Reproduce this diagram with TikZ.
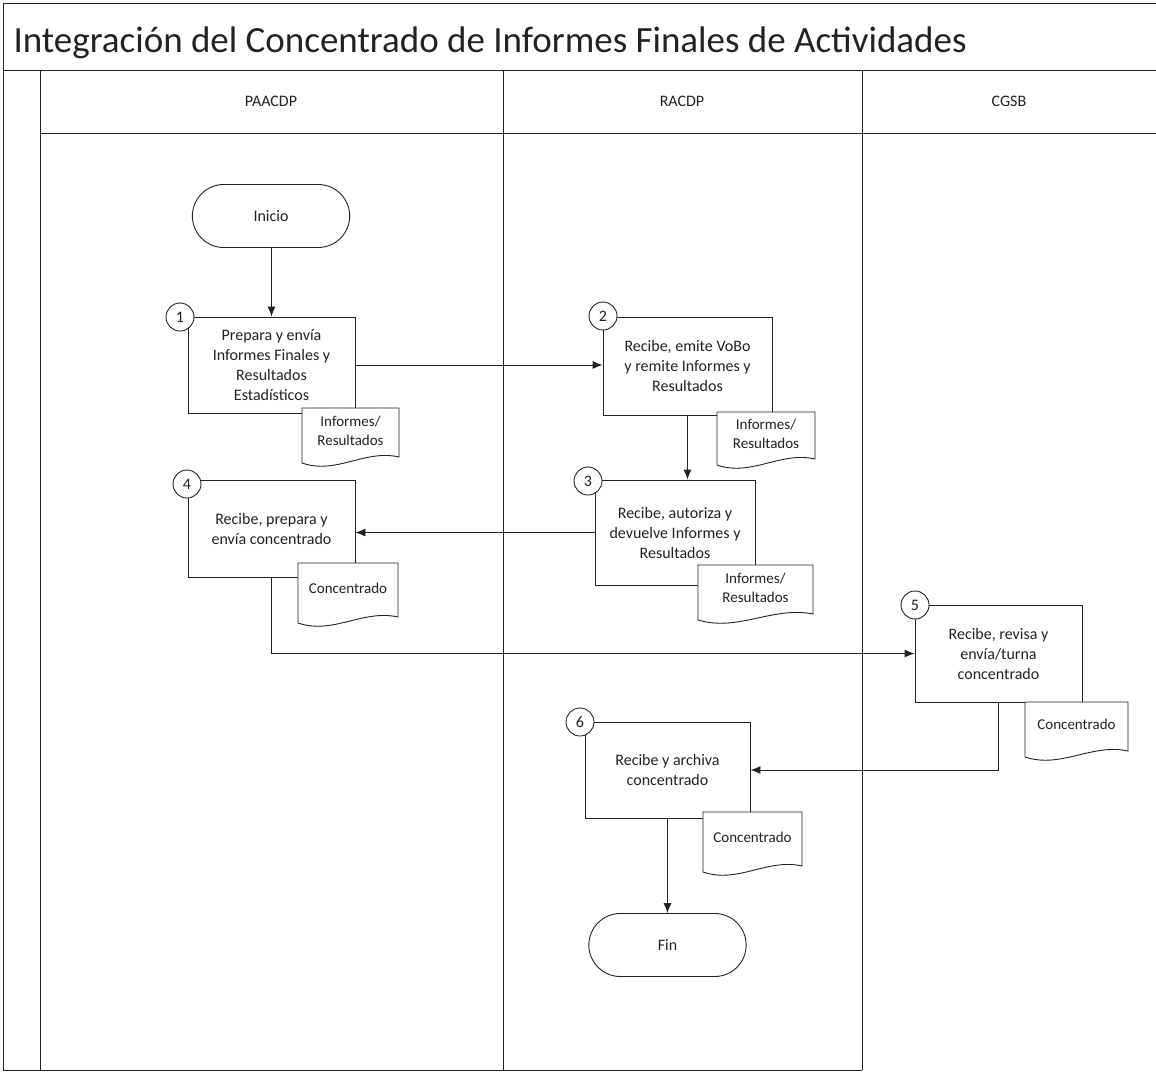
\documentclass[tikz,border=0pt]{standalone}
\usepackage{fontspec}
\setmainfont{Carlito}
\usetikzlibrary{arrows.meta,calc,shapes.misc}

\definecolor{ink}{HTML}{222222}
\tikzset{
  ln/.style={draw=ink, line width=0.9pt},
  lane/.style={draw=ink, line width=0.8pt},
  txt/.style={text=ink, font=\fontsize{16}{20}\selectfont},
  proc/.style={ln, txt, rectangle, fill=white, align=center, inner sep=2pt},
  term/.style={ln, txt, rounded rectangle, fill=white, minimum width=164pt, minimum height=63pt},
  numc/.style={ln, txt, circle, fill=white, minimum size=28pt, inner sep=0pt},
  docn/.style={txt, rectangle, align=center, inner sep=1pt, font=\fontsize{15}{19}\selectfont},
  arr/.style={ln, -{Latex[length=10pt,width=8pt]}},
}

\newcommand{\docshape}[6]{%
  \path[ln, fill=white] (#2,#3) -- (#4,#3) -- ($(#4,#5)+(0,6pt)$)
     .. controls ($(#4,#5)!0.35!(#2,#5)+(0,14pt)$) and ($(#4,#5)!0.65!(#2,#5)+(0,-12pt)$) .. (#2,#5) -- cycle;
  \node[docn] (#1) at ($(#2,#3)!0.5!(#4,#5)+(0,5pt)$) {#6};
}

\begin{document}
\begin{tikzpicture}[x=1pt,y=-1pt]
\useasboundingbox (0,0) rectangle (1156,1074);

% frame and lanes
\draw[lane] (1156,3) -- (3,3) -- (3,1070) -- (862,1070);
\draw[lane] (3,70) -- (1156,70);
\draw[lane] (40,133) -- (1156,133);
\draw[lane] (40,70) -- (40,1070);
\draw[lane] (503,70) -- (503,1070);
\draw[lane] (862,70) -- (862,1070);

\node[anchor=base west, text=ink, font=\fontsize{37}{42}\selectfont] (title) at (10,52)
  {Integración del Concentrado de Informes Finales de Actividades};

\node[txt] (l1) at (271,101) {PAACDP};
\node[txt] (l2) at (682,101) {RACDP};
\node[txt] (l3) at (1009,101) {CGSB};

% nodes
\node[term] (inicio) at (271,216) {Inicio};

\node[proc, minimum width=167pt, minimum height=96pt] (b1) at (271.5,365)
  {Prepara y envía\\Informes Finales y\\Resultados\\Estadísticos};
\node[proc, minimum width=169pt, minimum height=98pt] (b2) at (687.5,366)
  {Recibe, emite VoBo\\y remite Informes y\\Resultados};
\node[proc, minimum width=160pt, minimum height=105pt] (b3) at (675,532.5)
  {Recibe, autoriza y\\devuelve Informes y\\Resultados};
\node[proc, minimum width=167pt, minimum height=97pt] (b4) at (271.5,528.5)
  {Recibe, prepara y\\envía concentrado};
\node[proc, minimum width=167pt, minimum height=97pt] (b5) at (998.5,653.5)
  {Recibe, revisa y\\envía/turna\\concentrado};
\node[proc, minimum width=165pt, minimum height=96pt] (b6) at (667.5,770)
  {Recibe y archiva\\concentrado};

\node[term] (fin) at (667.5,945) {Fin};

% documents
\docshape{d1}{302}{408}{399}{463}{Informes/\\Resultados}
\docshape{d2}{717}{412}{815}{465}{Informes/\\Resultados}
\docshape{d3}{698}{565}{813}{620}{Informes/\\Resultados}
\docshape{d4}{298}{563}{398}{623}{Concentrado}
\docshape{d5}{1025}{702}{1128}{757}{Concentrado}
\docshape{d6}{703}{812}{802}{872}{Concentrado}

% numbers
\node[numc] (c1) at (180,317) {1};
\node[numc] (c2) at (603,316) {2};
\node[numc] (c3) at (588,481) {3};
\node[numc] (c4) at (187,484) {4};
\node[numc] (c5) at (915,605) {5};
\node[numc] (c6) at (580,722) {6};

% connectors
\draw[arr] (inicio.south -| b1.north) -- (b1.north);
\draw[arr] (b1.east) -- (b1.east -| b2.west);
\draw[arr] (b2.south) -- (b2.south |- b3.north);
\draw[arr] (b3.west) -- (b3.west -| b4.east);
\draw[arr] (b4.south) |- (b5.west);
\draw[arr] (b5.south) |- (b6.east);
\draw[arr] (b6.south) -- (fin.north);
\end{tikzpicture}
\end{document}
